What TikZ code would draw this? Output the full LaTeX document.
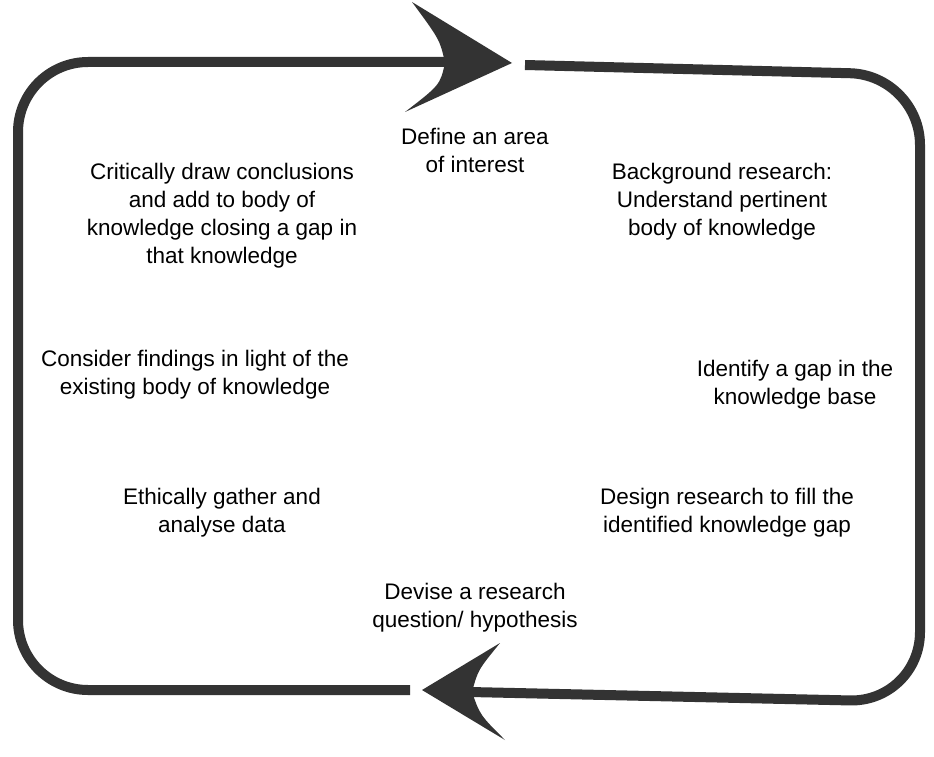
\documentclass[tikz,border=0pt]{standalone}
\usepackage{fontspec}
\setmainfont{Liberation Sans}
\definecolor{loopgray}{HTML}{333333}
\begin{document}
\begin{tikzpicture}[x=1pt,y=-1pt,
  stepbox/.style={align=center, font=\fontsize{22.5}{28}\selectfont, text=black},
  loopline/.style={draw=loopgray, line width=10pt, line cap=butt}]
\useasboundingbox (0,0) rectangle (934,757);
% loop
\draw[loopline, rounded corners=70pt] (410,690) -- (18,690) -- (18,62) -- (445,62);
\draw[loopline, rounded corners=70pt] (525,65) -- (920,75) -- (920,702) -- (470,692);
% arrow heads
\fill[loopgray] (512,63) -- (412,2) .. controls (440,40) .. (445,63) .. controls (440,85) .. (405,112) -- cycle;
\fill[loopgray] (422,690) -- (500,643) .. controls (478,670) .. (472,692) .. controls (480,715) .. (505,740) -- cycle;
% steps
\node[stepbox] (area) at (475,150) {Define an area\\of interest};
\node[stepbox] (background) at (722,202) {Background research:\\Understand pertinent\\body of knowledge};
\node[stepbox] (gap) at (795,385) {Identify a gap in the\\knowledge base};
\node[stepbox] (design) at (727,513) {Design research to fill the\\identified knowledge gap};
\node[stepbox] (devise) at (475,608) {Devise a research\\question/ hypothesis};
\node[stepbox] (gather) at (222,513) {Ethically gather and\\analyse data};
\node[stepbox] (consider) at (195,375) {Consider findings in light of the\\existing body of knowledge};
\node[stepbox] (conclude) at (222,216) {Critically draw conclusions\\and add to body of\\knowledge closing a gap in\\that knowledge};
\end{tikzpicture}
\end{document}
